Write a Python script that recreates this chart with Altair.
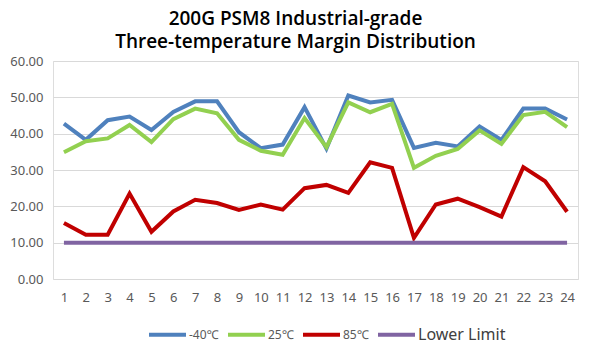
import altair as alt
import pandas as pd

points = list(range(1, 25))
minus40 = [42.75, 38.3, 43.7, 44.7, 41.0, 46.0, 48.9, 48.9, 40.4, 36.0, 37.0, 47.3,
           35.9, 50.5, 48.6, 49.3, 36.1, 37.5, 36.5, 42.0, 38.3, 46.9, 46.9, 43.9]
plus25 = [34.9, 37.9, 38.7, 42.4, 37.7, 44.0, 46.9, 45.6, 38.3, 35.3, 34.2, 44.3,
          36.3, 48.6, 45.9, 48.2, 30.6, 33.9, 35.8, 40.9, 37.2, 45.1, 46.0, 41.8]
plus85 = [15.4, 12.2, 12.2, 23.5, 13.0, 18.6, 21.8, 20.9, 19.0, 20.5, 19.1, 25.0,
          25.9, 23.7, 32.1, 30.6, 11.3, 20.5, 22.1, 19.8, 17.2, 30.8, 26.9, 18.5]
lower_limit = [10.0] * 24

series_names = ["-40℃", "25℃", "85℃", "Lower Limit"]
series_colors = ["#4F81BD", "#92D050", "#C00000", "#8064A2"]

rows = []
for name, vals in zip(series_names, [minus40, plus25, plus85, lower_limit]):
    for p, v in zip(points, vals):
        rows.append({"point": p, "value": v, "series": name})
df = pd.DataFrame(rows)

label_font = "Noto Sans"

chart = alt.Chart(df).mark_line(strokeWidth=4).encode(
    x=alt.X("point:O", sort=points,
            axis=alt.Axis(title=None, labelAngle=0, domain=False, ticks=False,
                          labelPadding=12, labelColor="#595959", labelFontSize=13,
                          labelFont=label_font)),
    y=alt.Y("value:Q", scale=alt.Scale(domain=[0, 60], nice=False),
            axis=alt.Axis(title=None, values=[0, 10, 20, 30, 40, 50, 60], format=".2f",
                          domain=False, ticks=False, gridColor="#D9D9D9",
                          labelPadding=10, labelColor="#595959", labelFontSize=13,
                          labelFont=label_font)),
    color=alt.Color("series:N", sort=series_names,
                    scale=alt.Scale(domain=series_names, range=series_colors),
                    legend=alt.Legend(
                        title=None, orient="none", direction="horizontal",
                        legendX=94, legendY=253,
                        symbolType="stroke", symbolSize=1369, symbolStrokeWidth=4,
                        columnPadding=1, labelOffset=1,
                        labelFont=label_font,
                        labelFontSize=alt.ExprRef(expr="datum.label == 'Lower Limit' ? 16 : 12"),
                        labelColor=alt.ExprRef(expr="datum.label == 'Lower Limit' ? '#404040' : '#595959'"),
                    )),
    detail="series:N",
).properties(
    width=525,
    height=218,
    title=alt.TitleParams(
        text=["200G PSM8 Industrial-grade", "Three-temperature Margin Distribution"],
        fontSize=19, font="Open Sans", fontWeight=600, color="#000000",
        anchor="middle", dx=-20, offset=3, lineHeight=23,
    ),
    padding={"left": 53, "top": 61, "right": 17, "bottom": 74},
    autosize=alt.AutoSizeParams(type="none"),
).configure_view(stroke=None).configure(background="white")

chart.save("out.html", embed_options={"renderer": "svg", "actions": False})
